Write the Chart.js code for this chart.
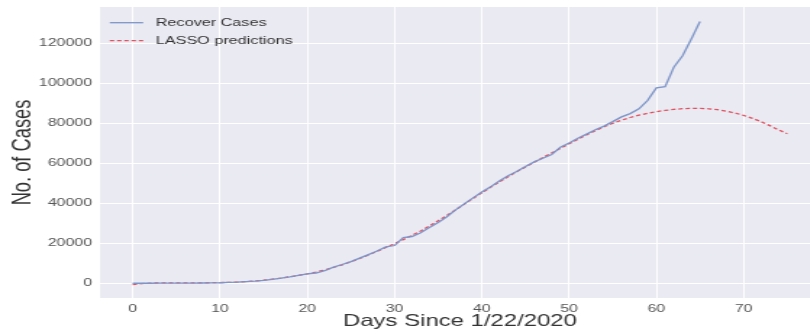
<!DOCTYPE html>
<html>
<head>
<meta charset="utf-8">
<script src="https://cdn.jsdelivr.net/npm/chart.js@4/dist/chart.umd.min.js"></script>
<style>
  html, body { margin: 0; padding: 0; background: #ffffff; overflow: hidden; }
  #c { display: block; }
</style>
</head>
<body>
<!-- drawn on a narrower canvas and widened by CSS, giving the wide letterforms -->
<canvas id="c" width="566" height="334" style="width:820px;height:334px"></canvas>
<script>
// Days since 1/22/2020
const days = [
  0, 1, 2, 3, 4, 5, 6, 7, 8, 9, 10, 11, 12, 13, 14, 15, 16, 17, 18, 19,
  20, 21, 22, 23, 24, 25, 26, 27, 28, 29, 30, 31, 32, 33, 34, 35, 36, 37, 38, 39,
  40, 41, 42, 43, 44, 45, 46, 47, 48, 49, 50, 51, 52, 53, 54, 55, 56, 57, 58, 59,
  60, 61, 62, 63, 64, 65, 66, 67, 68, 69, 70, 71, 72, 73, 74, 75
];

// Recovered cases observed (days 0-65)
const recovered = [
  28, 30, 36, 39, 52, 61, 107, 126, 143, 222,
  284, 472, 623, 852, 1124, 1487, 2011, 2616, 3244, 3946,
  4683, 5150, 6295, 8058, 9395, 10865, 12583, 14352, 16121, 18177,
  18890, 22886, 23394, 25227, 27905, 30384, 33277, 36711, 39782, 42716,
  45602, 48228, 51170, 53796, 55865, 58358, 60694, 62494, 64404, 68000,
  70200, 72500, 74600, 76800, 78600, 80840, 83207, 84854, 87256, 91499,
  97704, 98296, 108000, 113787, 122150, 130915
];

// LASSO model output (days 0-75)
const lassoPred = [
  -600, -150, 100, 220, 260, 260, 240, 230, 240, 280,
  350, 450, 600, 850, 1150, 1550, 2050, 2600, 3250, 3950,
  4750, 5650, 6700, 7900, 9250, 10750, 12400, 14150, 16000, 17900,
  19850, 21850, 23950, 26200, 28650, 31250, 33950, 36750, 39600, 42450,
  45250, 48000, 50700, 53300, 55800, 58200, 60550, 62850, 65150, 67450,
  69750, 72000, 74200, 76300, 78250, 80000, 81550, 82900, 84050, 85000,
  85800, 86450, 86950, 87300, 87500, 87500, 87250, 86800, 86100, 85150,
  83950, 82500, 80800, 78850, 76700, 74800
];

const xTicks = [0, 10, 20, 30, 40, 50, 60, 70];
const yTicks = [0, 20000, 40000, 60000, 80000, 100000, 120000];

const seriesLabels = ['Recover Cases', 'LASSO predictions'];

const FONT = '"Liberation Sans", Arial, sans-serif';

// Shaded plot background behind the white grid (seaborn darkgrid look)
const plotBackground = {
  id: 'plotBackground',
  beforeDraw(chart) {
    const { ctx, chartArea: a } = chart;
    ctx.save();
    ctx.fillStyle = '#eaeaf2';
    ctx.fillRect(a.left, a.top, a.right - a.left, a.bottom - a.top);
    ctx.restore();
  }
};

// Fixed axis box sizes; tick labels may overhang the plot edges
function fixBox(size) {
  return function (scale) {
    if (scale.isHorizontal()) scale.height = size; else scale.width = size;
    scale.paddingTop = 0;
    scale.paddingBottom = 0;
    scale.paddingLeft = 0;
    scale.paddingRight = 0;
  };
}

new Chart(document.getElementById('c'), {
  type: 'line',
  data: {
    datasets: [
      {
        label: seriesLabels[0],
        data: recovered.map((v, i) => ({ x: days[i], y: v })),
        borderColor: '#7d95c8',
        borderWidth: 1.3,
        pointRadius: 0,
        tension: 0,
        fill: false
      },
      {
        label: seriesLabels[1],
        data: lassoPred.map((v, i) => ({ x: days[i], y: v })),
        borderColor: '#e0505f',
        borderWidth: 1.3,
        borderDash: [3, 2],
        pointRadius: 0,
        tension: 0,
        fill: false
      }
    ]
  },
  options: {
    responsive: false,
    animation: false,
    devicePixelRatio: 1,
    layout: { padding: { top: 7, right: 0, bottom: 0, left: 0 } },
    plugins: {
      tooltip: { enabled: false },
      legend: {
        position: 'chartArea',
        align: 'start',
        title: { display: true, text: '', font: { size: 1, lineHeight: 1 }, padding: 4.65 },
        labels: {
          usePointStyle: true,
          pointStyle: 'line',
          pointStyleWidth: 23,
          boxWidth: 23,
          boxHeight: 10,
          padding: 6.8,
          color: '#333333',
          font: { family: FONT, size: 11.2, lineHeight: 1.2 },
          generateLabels(chart) {
            return chart.data.datasets.map((ds, i) => ({
              text: ' ' + ds.label,
              strokeStyle: ds.borderColor,
              fillStyle: ds.borderColor,
              lineWidth: ds.borderWidth,
              lineDash: ds.borderDash || [],
              pointStyle: 'line',
              fontColor: '#333333',
              datasetIndex: i,
              hidden: false
            }));
          }
        }
      }
    },
    scales: {
      x: {
        type: 'linear',
        min: -3.75,
        max: 78.75,
        afterFit: fixBox(36),
        afterBuildTicks(scale) { scale.ticks = xTicks.map(v => ({ value: v })); },
        border: { display: false },
        grid: { color: '#ffffff', lineWidth: 1, drawTicks: false },
        ticks: {
          padding: 4,
          color: '#555555',
          font: { family: FONT, size: 11 },
          maxRotation: 0,
          autoSkip: false
        },
        title: {
          display: true,
          text: 'Days Since 1/22/2020',
          color: '#333333',
          font: { family: FONT, size: 16.5, lineHeight: 1.2 },
          padding: { top: 0, bottom: 2.4 }
        }
      },
      y: {
        type: 'linear',
        min: -7350,
        max: 138150,
        afterFit: fixBox(69),
        afterBuildTicks(scale) { scale.ticks = yTicks.map(v => ({ value: v })); },
        border: { display: false },
        grid: { color: '#ffffff', lineWidth: 1, drawTicks: false },
        ticks: {
          padding: 5.5,
          color: '#555555',
          font: { family: FONT, size: 11 },
          callback: v => String(v)
        },
        title: {
          display: true,
          text: 'No. of Cases',
          color: '#333333',
          font: { family: FONT, size: 18.3, lineHeight: 1.2 },
          padding: { top: 4.9, bottom: 0 }
        }
      }
    }
  },
  plugins: [plotBackground]
});
</script>
</body>
</html>
